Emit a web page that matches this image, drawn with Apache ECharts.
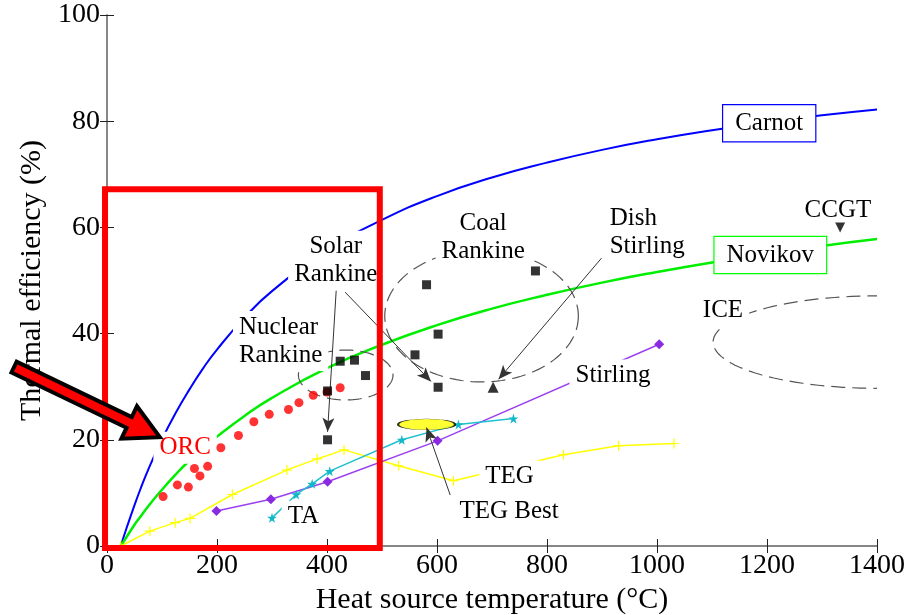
<!DOCTYPE html>
<html>
<head>
<meta charset="utf-8">
<title>Thermal efficiency vs heat source temperature</title>
<script src="https://cdn.jsdelivr.net/npm/echarts@6/dist/echarts.min.js"></script>
<style>
  html, body { margin: 0; padding: 0; background: #fff; }
  #main { width: 913px; height: 615px; }
</style>
</head>
<body>
<div id="main"></div>
<script>
// curves
const carnotX = [25, 35, 50, 60, 75, 100, 125, 150, 175, 200, 250, 300, 400, 500, 600, 700, 800, 900, 1000, 1100, 1200, 1300, 1400]
const carnotY = [0, 3.2, 7.7, 10.5, 14.4, 20.1, 25.1, 29.5, 33.5, 37.0, 43.0, 48.0, 55.7, 61.4, 65.9, 69.4, 72.2, 74.6, 76.6, 78.3, 79.8, 81.1, 82.2]
const novikovX = [25, 35, 50, 60, 75, 100, 125, 150, 175, 200, 250, 300, 400, 500, 600, 700, 800, 900, 1000, 1100, 1200, 1300, 1400]
const novikovY = [0, 1.6, 4.0, 5.4, 7.5, 10.6, 13.5, 16.1, 18.4, 20.6, 24.5, 27.9, 33.5, 37.9, 41.6, 44.7, 47.3, 49.6, 51.6, 53.4, 55.0, 56.5, 57.8]

// technologies
const orcX = [102, 128, 148, 159, 169, 183, 207, 239, 267, 295, 330, 349, 375, 400, 424]
const orcY = [9.3, 11.5, 11.1, 14.6, 13.2, 15.0, 18.5, 20.8, 23.4, 24.8, 25.7, 27.0, 28.4, 29.0, 29.8]
const rankineX = [401, 424, 450, 470, 401, 560, 581, 602, 602, 779]
const rankineY = [29.2, 34.8, 35.0, 32.1, 20.0, 36.0, 49.2, 39.9, 29.9, 51.8]
const dishX = [702]
const dishY = [29.9]
const ccgtX = [1333]
const ccgtY = [60.0]
const stirlingX = [199, 298, 401, 601, 1004]
const stirlingY = [6.6, 8.8, 12.1, 19.8, 38.0]
const taX = [300, 344, 373, 405, 536, 639, 739]
const taY = [5.3, 9.7, 11.7, 14.1, 20.0, 22.9, 24.0]
const tegX = [25, 78, 124, 151, 228, 327, 382, 431, 530, 630, 830, 930, 1031]
const tegY = [0, 2.8, 4.4, 5.2, 9.7, 14.3, 16.4, 18.1, 15.1, 12.3, 17.2, 18.9, 19.3]
const tegBestX = [581]
const tegBestY = [22.9]

// dashed regions: centre x, centre y, half width, half height (data units)
const regions = [
  [434, 32.2, 86, 4.7],
  [681, 43.3, 176, 12.4],
  [1400, 38.4, 298, 8.7]
]

// annotation arrows: from [x, y] to [x, y]
const pointers = [
  [[417, 48.6], [401, 21.5]],
  [[433, 47.8], [589, 31.0]],
  [[899, 54.2], [712, 31.4]],
  [[624, 9.6], [581, 22.3]]
]

// texts: label, x, y, alignment
const notes = [
  ['Carnot', 1204, 79.6, 'center'],
  ['Novikov', 1206, 54.8, 'center'],
  ['CCGT', 1329, 63.2, 'center'],
  ['ICE', 1120, 44.3, 'center'],
  ['Coal\nRankine', 684, 58.1, 'center'],
  ['Dish\nStirling', 903, 59.0, 'left'],
  ['Solar\nRankine', 416, 53.7, 'center'],
  ['Nuclear\nRankine', 229, 38.6, 'left'],
  ['ORC', 142, 18.5, 'center'],
  ['TA', 357, 5.5, 'center'],
  ['Stirling', 920, 32.1, 'center'],
  ['TEG', 732, 13.1, 'center'],
  ['TEG Best', 731, 6.5, 'center']
]

// red highlight box and big arrow
const focusBox = [[-3.6, 67.2], [496, -0.4]]
const bigArrow = [[-169, 33.7], [96, 20.5]]

const FONT = '"Liberation Serif", "Times New Roman", serif'
const zip = (xs, ys) => xs.map((x, i) => [x, ys[i]])
const noteBorder = { Carnot: '#0000ff', Novikov: '#00ff00' }
const noteColor = { ORC: '#ff0000' }

const star = 'path://M50,0L61,35L98,35L68,57L79,91L50,70L21,91L32,57L2,35L39,35Z'
const plus = 'path://M4.4,0h1.2v10h-1.2zM0,4.4h10v1.2h-10z'

let chart = echarts.init(document.getElementById('main'))

const axisCommon = {
  type: 'value',
  splitLine: { show: false },
  axisLine: { lineStyle: { color: '#7f7f7f', width: 1.5 } },
  axisTick: { inside: true, length: 7, lineStyle: { color: '#222' } }
}

chart.setOption({
  animation: false,
  backgroundColor: '#fff',
  grid: { left: 107, right: 36, top: 15, bottom: 69, containLabel: false, outerBoundsMode: 'none' },
  xAxis: [
    Object.assign({}, axisCommon, {
      min: 0, max: 1400, interval: 200, position: 'bottom',
      axisLabel: { fontFamily: FONT, fontSize: 28, color: '#000', margin: 6, formatter: v => String(v) },
      name: 'Heat source temperature (°C)',
      nameLocation: 'middle',
      nameGap: 38,
      nameTextStyle: { fontFamily: FONT, fontSize: 30, color: '#000' }
    }),
    Object.assign({}, axisCommon, {
      min: 0, max: 1400, interval: 200, position: 'top',
      axisLabel: { show: false }
    })
  ],
  yAxis: [
    Object.assign({}, axisCommon, {
      min: 0, max: 100, interval: 20, position: 'left',
      axisLabel: { fontFamily: FONT, fontSize: 28, color: '#000', margin: 7 },
      name: 'Thermal efficiency (%)',
      nameLocation: 'middle',
      nameGap: 45,
      nameTextStyle: { fontFamily: FONT, fontSize: 30, color: '#000' }
    }),
    Object.assign({}, axisCommon, {
      min: 0, max: 100, interval: 20, position: 'right',
      axisLabel: { show: false }
    })
  ],
  series: [
    {
      name: 'Carnot', type: 'line', data: zip(carnotX, carnotY), smooth: true,
      showSymbol: false, lineStyle: { color: '#0000ff', width: 2 }, z: 2
    },
    {
      name: 'Novikov', type: 'line', data: zip(novikovX, novikovY), smooth: true,
      showSymbol: false, lineStyle: { color: '#00ee00', width: 2.5 }, z: 2
    },
    {
      name: 'TEG', type: 'line', data: zip(tegX, tegY), symbol: plus, symbolSize: 10,
      showAllSymbol: true, itemStyle: { color: '#ffff00' },
      lineStyle: { color: '#ffff00', width: 1.5 }, z: 2
    },
    {
      name: 'Stirling', type: 'line', data: zip(stirlingX, stirlingY), symbol: 'diamond', symbolSize: 10,
      itemStyle: { color: '#8a2be2' }, lineStyle: { color: '#9b40f0', width: 1.5 }, z: 2
    },
    {
      name: 'TA', type: 'line', data: zip(taX, taY), symbol: star, symbolSize: 10,
      itemStyle: { color: '#10b8c8' }, lineStyle: { color: '#20c0d0', width: 1.5 }, z: 2
    },
    {
      name: 'ORC', type: 'scatter', data: zip(orcX, orcY), symbol: 'circle', symbolSize: 9,
      itemStyle: { color: '#ff0000' }, z: 6
    },
    {
      name: 'Rankine', type: 'scatter', data: zip(rankineX, rankineY), symbol: 'rect', symbolSize: 9,
      itemStyle: { color: '#000' }, z: 6
    },
    {
      name: 'Dish Stirling', type: 'scatter', data: zip(dishX, dishY), symbol: 'triangle', symbolSize: 11,
      itemStyle: { color: '#000' }, z: 6
    },
    {
      name: 'CCGT', type: 'scatter', data: zip(ccgtX, ccgtY), symbol: 'triangle', symbolRotate: 180, symbolSize: 10,
      itemStyle: { color: '#000' }, z: 6
    },
    {
      name: 'TEG Best', type: 'scatter', data: zip(tegBestX, tegBestY), symbol: 'circle', symbolSize: [57, 11],
      itemStyle: { color: '#ffff00', borderColor: '#000', borderWidth: 1 }, z: 3
    },
    {
      // dashed regions
      type: 'custom', clip: true, z: 3, silent: true,
      data: regions,
      renderItem: function (params, api) {
        let c = api.coord([api.value(0), api.value(1)])
        let s = api.size([api.value(2), api.value(3)])
        let pts = []
        for (let k = 0; k <= 120; k++) {
          let a = k / 120 * Math.PI * 2
          pts.push([c[0] + s[0] * Math.cos(a), c[1] + s[1] * Math.sin(a)])
        }
        return {
          type: 'polyline',
          shape: { points: pts },
          style: { stroke: '#555', lineWidth: 1.2, fill: null, lineDash: [14, 7] }
        }
      }
    },
    {
      // pointer arrows
      type: 'line', data: [], z: 4, silent: true,
      markLine: {
        silent: true, animation: false,
        symbol: ['none', 'arrow'], symbolSize: [9, 14],
        label: { show: false },
        lineStyle: { color: '#333', width: 1, type: 'solid' },
        data: pointers.map(p => [{ coord: p[0] }, { coord: p[1] }])
      }
    },
    {
      // text annotations
      type: 'custom', z: 5, silent: true, clip: false,
      data: notes.map(n => [n[1], n[2]]),
      renderItem: function (params, api) {
        let n = notes[params.dataIndex]
        let p = api.coord([api.value(0), api.value(1)])
        let border = noteBorder[n[0]]
        return {
          type: 'text',
          x: p[0], y: p[1],
          style: {
            text: n[0],
            fill: noteColor[n[0]] || '#000',
            font: '25px ' + FONT,
            lineHeight: 28,
            align: n[3],
            verticalAlign: 'middle',
            backgroundColor: '#fff',
            padding: border ? [4, 12] : [2, 6],
            borderColor: border || null,
            borderWidth: border ? 1.2 : 0
          }
        }
      }
    },
    {
      // red focus box
      type: 'custom', z: 10, silent: true, clip: false,
      data: [[focusBox[0][0], focusBox[0][1], focusBox[1][0], focusBox[1][1]]],
      renderItem: function (params, api) {
        let a = api.coord([api.value(0), api.value(1)])
        let b = api.coord([api.value(2), api.value(3)])
        return {
          type: 'rect',
          shape: { x: a[0], y: a[1], width: b[0] - a[0], height: b[1] - a[1] },
          style: { stroke: '#ff0000', lineWidth: 6, fill: null }
        }
      }
    },
    {
      // big red arrow pointing at ORC
      type: 'custom', z: 11, silent: true, clip: false,
      data: [[bigArrow[0][0], bigArrow[0][1], bigArrow[1][0], bigArrow[1][1]]],
      renderItem: function (params, api) {
        let a = api.coord([api.value(0), api.value(1)])
        let b = api.coord([api.value(2), api.value(3)])
        let dx = b[0] - a[0], dy = b[1] - a[1]
        let len = Math.sqrt(dx * dx + dy * dy)
        let ux = dx / len, uy = dy / len
        let nx = -uy, ny = ux
        let hw = 6, headW = 18, headL = 34
        let bx = b[0] - ux * headL, by = b[1] - uy * headL
        let pts = [
          [a[0] + nx * hw, a[1] + ny * hw],
          [bx + nx * hw, by + ny * hw],
          [bx + nx * headW, by + ny * headW],
          [b[0], b[1]],
          [bx - nx * headW, by - ny * headW],
          [bx - nx * hw, by - ny * hw],
          [a[0] - nx * hw, a[1] - ny * hw]
        ]
        return {
          type: 'polygon',
          shape: { points: pts },
          style: { fill: '#ff0000', stroke: '#000', lineWidth: 4, lineJoin: 'miter' }
        }
      }
    }
  ]
})
</script>
</body>
</html>
